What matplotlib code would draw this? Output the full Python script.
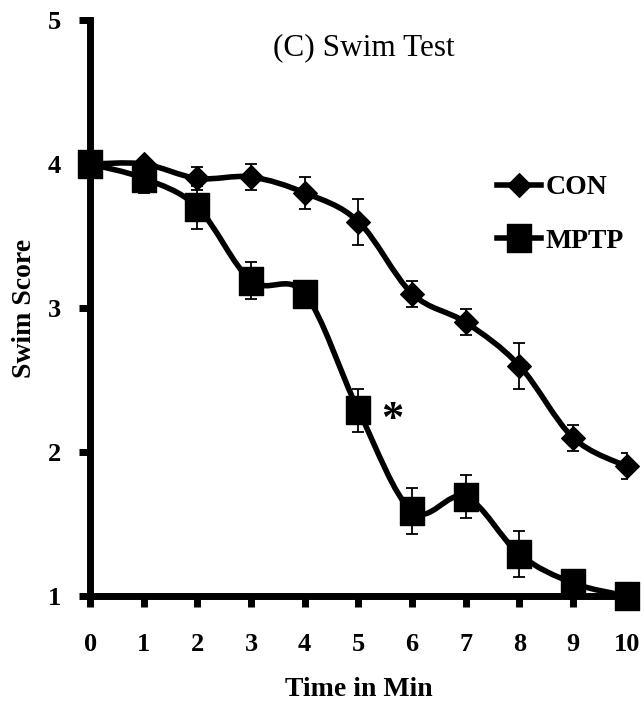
import numpy as np
import matplotlib.pyplot as plt
from matplotlib.path import Path
from matplotlib.patches import PathPatch

plt.rcParams['font.family'] = ['Liberation Serif', 'DejaVu Serif']

minutes = [0, 1, 2, 3, 4, 5, 6, 7, 8, 9, 10]
con = [4.0, 4.0, 3.9, 3.91, 3.8, 3.6, 3.1, 2.9, 2.6, 2.1, 1.9]
con_err = [0.0, 0.03, 0.08, 0.09, 0.11, 0.16, 0.09, 0.09, 0.16, 0.09, 0.09]
mptp = [4.0, 3.9, 3.7, 3.19, 3.1, 2.29, 1.59, 1.69, 1.29, 1.09, 1.0]
mptp_err = [0.0, 0.1, 0.15, 0.13, 0.07, 0.15, 0.16, 0.15, 0.16, 0.04, 0.0]

# slightly tall square and a plain diamond
square = Path([(-0.85, -1), (0.85, -1), (0.85, 1), (-0.85, 1), (-0.85, -1)],
              [Path.MOVETO, Path.LINETO, Path.LINETO, Path.LINETO, Path.CLOSEPOLY])
diamond = Path([(0, 1), (1, 0), (0, -1), (-1, 0), (0, 1)],
               [Path.MOVETO, Path.LINETO, Path.LINETO, Path.LINETO, Path.CLOSEPOLY])


def smooth_path(x, y, tension=1 / 6):
    # Catmull-Rom style cubic segments, like a spreadsheet "smoothed line"
    x = np.asarray(x, float)
    y = np.asarray(y, float)
    verts = [(x[0], y[0])]
    codes = [Path.MOVETO]
    n = len(x)
    for i in range(n - 1):
        p0 = i - 1 if i > 0 else i
        p3 = i + 2 if i + 2 < n else i + 1
        c1 = (x[i] + (x[i + 1] - x[p0]) * tension, y[i] + (y[i + 1] - y[p0]) * tension)
        c2 = (x[i + 1] - (x[p3] - x[i]) * tension, y[i + 1] - (y[p3] - y[i]) * tension)
        verts += [c1, c2, (x[i + 1], y[i + 1])]
        codes += [Path.CURVE4] * 3
    return Path(verts, codes)


fig = plt.figure(figsize=(6.44, 7.02), dpi=100)
ax = fig.add_axes([0.14, 0.151, 0.833, 0.8205])

for vals, err, mk, ms, lab in [(con, con_err, diamond, 17, 'CON'),
                                (mptp, mptp_err, square, 19.5, 'MPTP')]:
    ax.add_patch(PathPatch(smooth_path(minutes, vals), fill=False,
                           edgecolor='black', lw=4, zorder=3))
    ax.errorbar(minutes, vals, yerr=err, fmt='none', ecolor='black',
                elinewidth=1.3, capsize=4.5, capthick=1.3, zorder=4)
    ax.plot(minutes, vals, linestyle='none', marker=mk, markersize=ms,
            color='black', zorder=5, clip_on=False)
    # legend handle
    ax.plot([], [], color='black', lw=4, marker=mk, markersize=ms, label=lab)

ax.text(5.64, 2.22, '*', fontsize=32, fontweight='bold', ha='center', va='center')
ax.text(5.1, 4.81, '(C) Swim Test', fontsize=22.5, ha='center', va='center')

ax.set_xlim(0, 10)
ax.set_ylim(1, 5)
ax.set_xticks(minutes)
ax.set_yticks([1, 2, 3, 4, 5])
for s in ['top', 'right']:
    ax.spines[s].set_visible(False)
for s in ['left', 'bottom']:
    ax.spines[s].set_linewidth(5)
ax.tick_params(direction='out', length=8, width=5, labelsize=19)
ax.tick_params(axis='x', pad=19)
ax.tick_params(axis='y', pad=13)
for t in ax.get_xticklabels() + ax.get_yticklabels():
    t.set_fontweight('bold')
ax.set_xlabel('Time in Min', fontsize=20, fontweight='bold', labelpad=15)
ax.set_ylabel('Swim Score', fontsize=20, fontweight='bold', labelpad=8)

leg = ax.legend(loc='upper left', bbox_to_anchor=(0.758, 0.731), frameon=False,
                prop={'size': 20, 'weight': 'bold'}, handlelength=1.6,
                handletextpad=0.15, labelspacing=1.0, borderpad=0,
                borderaxespad=0)

fig.savefig('out.png', dpi=100)
